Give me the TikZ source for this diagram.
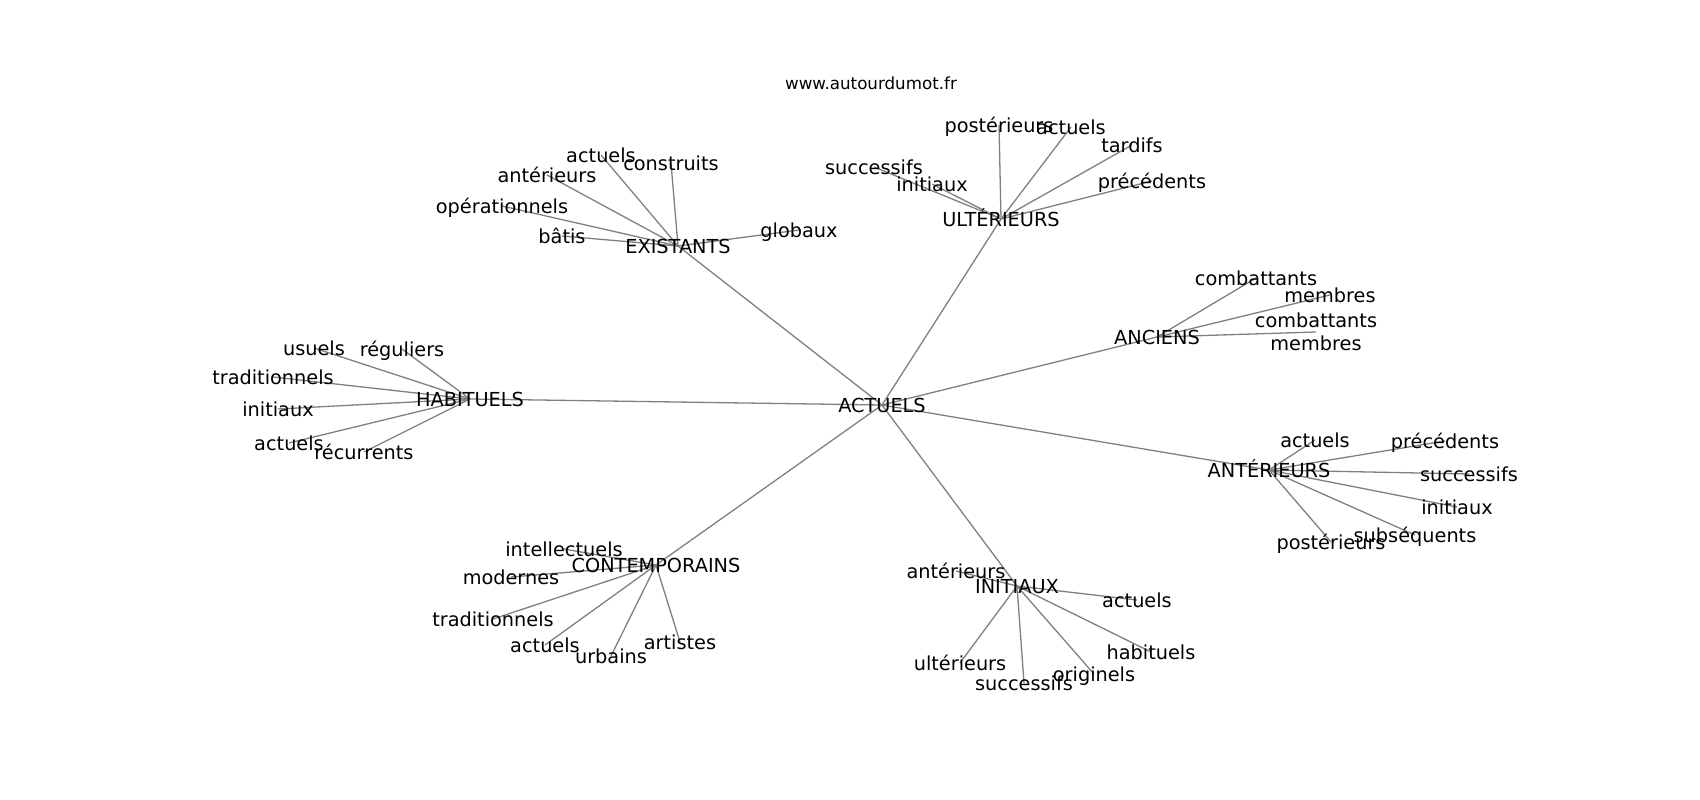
\documentclass[tikz,border=0pt]{standalone}
\usepackage{fontspec}
\setmainfont{DejaVu Sans}
\begin{document}
\begin{tikzpicture}[x=1pt,y=-1pt,
  lbl/.style={inner sep=0pt,font=\fontsize{19.3}{22.5}\selectfont,text height=14pt,text depth=0pt,align=center},
  ttl/.style={inner sep=0pt,font=\fontsize{16.7}{20}\selectfont,text height=12pt,text depth=0pt},
  edge/.style={draw=black!50,line width=1.3pt}]
\useasboundingbox[fill=white] (0,0) rectangle (1700,800);
% coordinates
\coordinate (cA) at (882,405);
\coordinate (cE) at (678,246);
\coordinate (e1) at (601,155);
\coordinate (e2) at (671,163);
\coordinate (e3) at (547,175);
\coordinate (e4) at (502,206);
\coordinate (e5) at (562,236);
\coordinate (e6) at (799,230);
\coordinate (cU) at (1001,219);
\coordinate (u1) at (999,125);
\coordinate (u2) at (1071,127);
\coordinate (u3) at (1132,145);
\coordinate (u4) at (1152,181);
\coordinate (u5) at (874,167);
\coordinate (u6) at (932,184);
\coordinate (cN) at (1157,337);
\coordinate (n1) at (1256,278);
\coordinate (n2) at (1330,295);
\coordinate (n3) at (1316,332);
\coordinate (n3t) at (1316,343);
\coordinate (cT) at (1269,470);
\coordinate (t1) at (1315,440);
\coordinate (t2) at (1445,441);
\coordinate (t3) at (1469,474);
\coordinate (t4) at (1457,507);
\coordinate (t5) at (1415,535);
\coordinate (t6) at (1331,542);
\coordinate (cI) at (1017,586);
\coordinate (i1) at (956,571);
\coordinate (i2) at (1137,600);
\coordinate (i3) at (1151,652);
\coordinate (i4) at (960,663);
\coordinate (i5) at (1024,683);
\coordinate (i6) at (1094,674);
\coordinate (cC) at (656,565);
\coordinate (c1) at (564,549);
\coordinate (c2) at (511,577);
\coordinate (c3) at (493,619);
\coordinate (c4) at (545,645);
\coordinate (c5) at (611,656);
\coordinate (c6) at (680,642);
\coordinate (cH) at (470,399);
\coordinate (h1) at (314,348);
\coordinate (h2) at (402,349);
\coordinate (h3) at (273,377);
\coordinate (h4) at (278,409);
\coordinate (h5) at (289,443);
\coordinate (h6) at (364,452);
% edges
\foreach \h in {cE,cU,cN,cT,cI,cC,cH} \draw[edge] (cA) -- (\h);
\foreach \n in {e1,e2,e3,e4,e5,e6} \draw[edge] (cE) -- (\n);
\foreach \n in {u1,u2,u3,u4,u5,u6} \draw[edge] (cU) -- (\n);
\foreach \n in {n1,n2,n3} \draw[edge] (cN) -- (\n);
\foreach \n in {t1,t2,t3,t4,t5,t6} \draw[edge] (cT) -- (\n);
\foreach \n in {i1,i2,i3,i4,i5,i6} \draw[edge] (cI) -- (\n);
\foreach \n in {c1,c2,c3,c4,c5,c6} \draw[edge] (cC) -- (\n);
\foreach \n in {h1,h2,h3,h4,h5,h6} \draw[edge] (cH) -- (\n);
% labels
\node[ttl] (title) at (871,83) {www.autourdumot.fr};
\node[lbl] (A) at (cA) {ACTUELS};
\node[lbl] (E) at (cE) {EXISTANTS};
\node[lbl] (E1) at (e1) {actuels};
\node[lbl] (E2) at (e2) {construits};
\node[lbl] (E3) at (e3) {antérieurs};
\node[lbl] (E4) at (e4) {opérationnels};
\node[lbl] (E5) at (e5) {bâtis};
\node[lbl] (E6) at (e6) {globaux};
\node[lbl] (U) at (cU) {ULTÉRIEURS};
\node[lbl] (U1) at (u1) {postérieurs};
\node[lbl] (U2) at (u2) {actuels};
\node[lbl] (U3) at (u3) {tardifs};
\node[lbl] (U4) at (u4) {précédents};
\node[lbl] (U5) at (u5) {successifs};
\node[lbl] (U6) at (u6) {initiaux};
\node[lbl] (N) at (cN) {ANCIENS};
\node[lbl] (N1) at (n1) {combattants};
\node[lbl] (N2) at (n2) {membres};
\node[lbl] (N3) at (n3t) {combattants\\membres};
\node[lbl] (T) at (cT) {ANTÉRIEURS};
\node[lbl] (T1) at (t1) {actuels};
\node[lbl] (T2) at (t2) {précédents};
\node[lbl] (T3) at (t3) {successifs};
\node[lbl] (T4) at (t4) {initiaux};
\node[lbl] (T5) at (t5) {subséquents};
\node[lbl] (T6) at (t6) {postérieurs};
\node[lbl] (I) at (cI) {INITIAUX};
\node[lbl] (I1) at (i1) {antérieurs};
\node[lbl] (I2) at (i2) {actuels};
\node[lbl] (I3) at (i3) {habituels};
\node[lbl] (I4) at (i4) {ultérieurs};
\node[lbl] (I5) at (i5) {successifs};
\node[lbl] (I6) at (i6) {originels};
\node[lbl] (C) at (cC) {CONTEMPORAINS};
\node[lbl] (C1) at (c1) {intellectuels};
\node[lbl] (C2) at (c2) {modernes};
\node[lbl] (C3) at (c3) {traditionnels};
\node[lbl] (C4) at (c4) {actuels};
\node[lbl] (C5) at (c5) {urbains};
\node[lbl] (C6) at (c6) {artistes};
\node[lbl] (H) at (cH) {HABITUELS};
\node[lbl] (H1) at (h1) {usuels};
\node[lbl] (H2) at (h2) {réguliers};
\node[lbl] (H3) at (h3) {traditionnels};
\node[lbl] (H4) at (h4) {initiaux};
\node[lbl] (H5) at (h5) {actuels};
\node[lbl] (H6) at (h6) {récurrents};
\end{tikzpicture}
\end{document}
